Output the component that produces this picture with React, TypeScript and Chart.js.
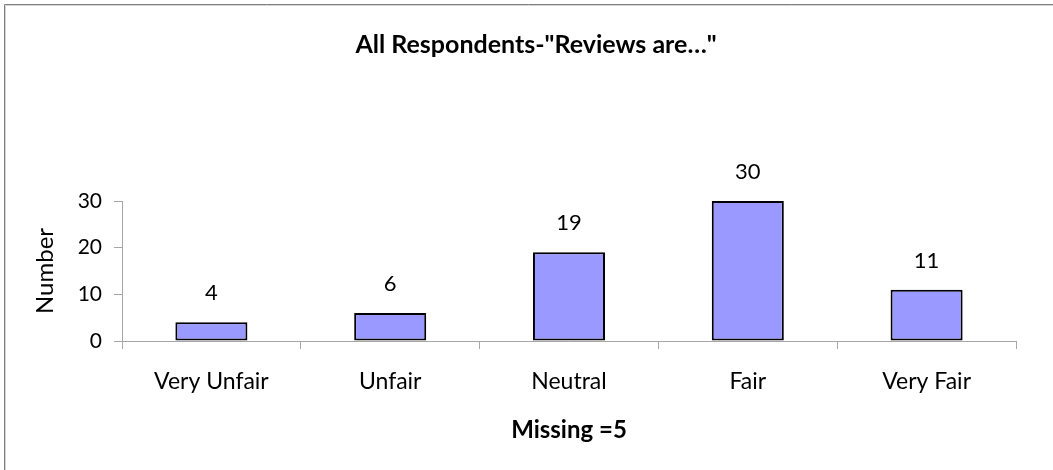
import React, { useEffect, useRef } from "react";
import { Chart, registerables } from "chart.js";

Chart.register(...registerables);

const categories = ["Very Unfair", "Unfair", "Neutral", "Fair", "Very Fair"];
const counts = [4, 6, 19, 30, 11];
const yTicks = [0, 10, 20, 30];
const titleText = 'All Respondents-"Reviews are…"';
const xTitle = "Missing =5";
const yTitle = "Number";

const FONT = "Lato, 'Open Sans', sans-serif";

export default function App() {
  const ref = useRef<HTMLCanvasElement>(null);

  useEffect(() => {
    if (!ref.current) return;
    const framePlugin = {
      id: "frame",
      beforeDraw(chart: any) {
        const ctx = chart.ctx;
        ctx.save();
        ctx.fillStyle = "#ffffff";
        ctx.fillRect(0, 0, chart.width, chart.height);
        ctx.strokeStyle = "#808080";
        ctx.lineWidth = 1;
        ctx.beginPath();
        ctx.moveTo(4.5, chart.height);
        ctx.lineTo(4.5, 4.5);
        ctx.lineTo(chart.width, 4.5);
        ctx.stroke();
        ctx.strokeStyle = "#d4d4d4";
        ctx.beginPath();
        ctx.moveTo(5.5, chart.height);
        ctx.lineTo(5.5, 5.5);
        ctx.lineTo(chart.width, 5.5);
        ctx.stroke();
        ctx.restore();
      },
      afterDraw(chart: any) {
        const ctx = chart.ctx;
        ctx.save();
        ctx.fillStyle = "#000";
        ctx.font = `bold 25px ${FONT}`;
        ctx.textAlign = "center";
        ctx.textBaseline = "alphabetic";
        ctx.fillText(titleText, 536, 53);
        ctx.restore();
      },
    };
    const labelPlugin = {
      id: "valueLabels",
      afterDatasetsDraw(chart: any) {
        const ctx = chart.ctx;
        const meta = chart.getDatasetMeta(0);
        ctx.save();
        ctx.fillStyle = "#000";
        ctx.font = `22px ${FONT}`;
        ctx.textAlign = "center";
        ctx.textBaseline = "middle";
        meta.data.forEach((el: any, i: number) => {
          ctx.fillText(String(counts[i]), el.x, el.y - 29);
        });
        ctx.restore();
      },
    };

    const chart = new Chart(ref.current, {
      type: "bar",
      data: {
        labels: categories,
        datasets: [
          {
            data: counts,
            backgroundColor: "#9999FF",
            borderColor: "#000000",
            borderWidth: 2,
            borderSkipped: false,
            categoryPercentage: 1,
            barPercentage: 0.403,
          },
        ],
      },
      options: {
        responsive: false,
        animation: false,
        layout: { padding: { top: 201, left: 0, right: 37, bottom: 0 } },
        plugins: {
          legend: { display: false },
          title: { display: false },
          tooltip: { enabled: false },
        },
        scales: {
          x: {
            afterFit(scale: any) {
              scale.height = 129;
            },
            grid: {
              offset: true,
              drawOnChartArea: false,
              drawTicks: true,
              tickLength: 8,
              color: "#a6a6a6",
            },
            border: { color: "#a6a6a6", width: 1 },
            ticks: {
              color: "#000",
              font: { family: FONT, size: 23 },
              padding: 19,
              autoSkip: false,
              maxRotation: 0,
            },
            title: {
              display: true,
              text: xTitle,
              color: "#000",
              font: { family: FONT, size: 24, weight: "bold" },
              padding: { top: 0, bottom: 25 },
            },
          },
          y: {
            min: 0,
            max: 30,
            afterFit(scale: any) {
              scale.width = 122;
            },
            afterBuildTicks(scale: any) {
              scale.ticks = yTicks.map((v) => ({ value: v }));
            },
            grid: {
              drawOnChartArea: false,
              drawTicks: true,
              tickLength: 8,
              color: "#a6a6a6",
            },
            border: { color: "#a6a6a6", width: 1 },
            ticks: {
              color: "#000",
              font: { family: FONT, size: 21 },
              padding: 12,
            },
            title: {
              display: true,
              text: yTitle,
              color: "#000",
              font: { family: FONT, size: 24 },
              padding: { top: 31, bottom: 0 },
            },
          },
        },
      },
      plugins: [framePlugin, labelPlugin],
    });
    return () => chart.destroy();
  }, []);

  return (
    <div style={{ position: "fixed", left: 0, top: 0, width: 1053, height: 470, background: "#fff" }}>
      <canvas ref={ref} width={1053} height={470} style={{ display: "block" }} />
    </div>
  );
}
